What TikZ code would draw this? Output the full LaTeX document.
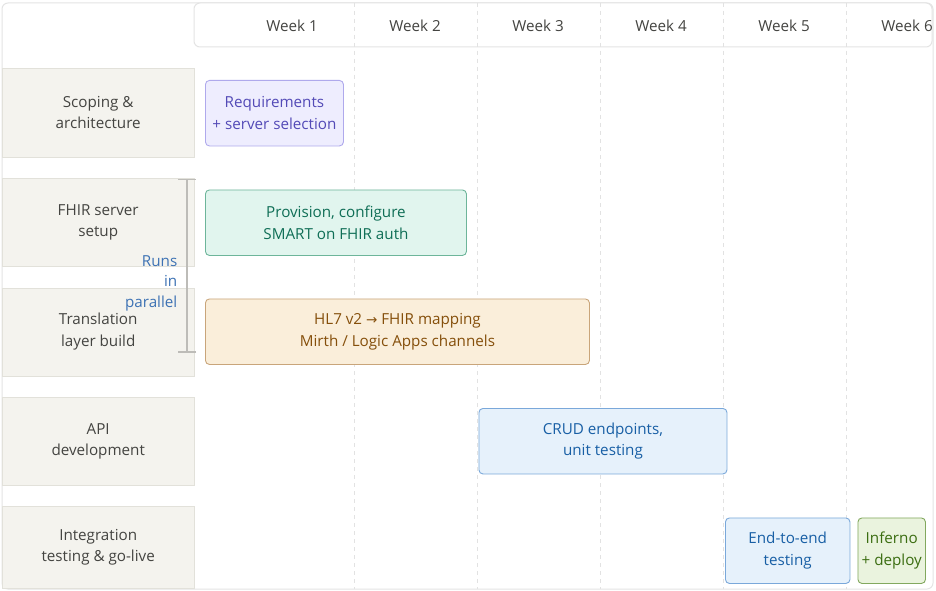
\documentclass[tikz,border=0pt]{standalone}
\usepackage{fontspec}
\setmainfont{Open Sans}
\newfontfamily\arrowfont{DejaVu Sans}
\usetikzlibrary{positioning, arrows.meta}

\definecolor{framegray}{HTML}{E4E4E4}
\definecolor{gridgray}{HTML}{E2E2E2}
\definecolor{phasefill}{HTML}{F4F3EE}
\definecolor{phaseline}{HTML}{E2E1DA}
\definecolor{labeltext}{HTML}{444441}
\definecolor{bracketgray}{HTML}{BDBCB8}
\definecolor{notetext}{HTML}{3D72B4}
\definecolor{reqfill}{HTML}{EEEDFE}
\definecolor{reqline}{HTML}{AFA9EC}
\definecolor{reqtext}{HTML}{534AB7}
\definecolor{provfill}{HTML}{E1F5EE}
\definecolor{provline}{HTML}{6DB59A}
\definecolor{provtext}{HTML}{0F6E56}
\definecolor{mapfill}{HTML}{FAEEDA}
\definecolor{mapline}{HTML}{C9A57A}
\definecolor{maptext}{HTML}{854F0B}
\definecolor{apifill}{HTML}{E6F1FB}
\definecolor{apiline}{HTML}{7AA8DA}
\definecolor{apitext}{HTML}{185FA5}
\definecolor{golivefill}{HTML}{EAF3DE}
\definecolor{goliveline}{HTML}{82A85E}
\definecolor{golivetext}{HTML}{3B6D11}

\begin{document}
\begin{tikzpicture}[x=1pt,y=-1pt,node distance=123pt,font=\fontsize{15.2}{21.5}\selectfont]
\tikzstyle{frame}=[draw=framegray,line width=1pt,rounded corners=6pt]
\tikzstyle{guide}=[draw=gridgray,line width=0.8pt,dash pattern=on 4pt off 4pt]
\tikzstyle{week}=[text=labeltext,inner sep=0pt]
\tikzstyle{phase}=[fill=phasefill,draw=phaseline,text=labeltext,align=center,anchor=north west,inner sep=0pt,minimum width=192pt,minimum height=88pt]
\tikzstyle{bar}=[rounded corners=4pt,line width=0.9pt,align=center,anchor=north west,inner sep=0pt,minimum height=65.5pt]
\useasboundingbox (0,0) rectangle (936,591);

% frame and header
\draw[frame,fill=white] (2,3) rectangle (933,589);
\draw[frame,fill=white] (194,3) rectangle (932,47);
\draw[guide] (354,3) -- (354,589);
\draw[guide] (477,3) -- (477,589);
\draw[guide] (600.5,3) -- (600.5,589);
\draw[guide] (723.5,3) -- (723.5,589);
\draw[guide] (846.5,3) -- (846.5,589);

\node[week] (W1) at (292,25.5) {Week 1};
\node[week] (W2) [right of=W1] {Week 2};
\node[week] (W3) [right of=W2] {Week 3};
\node[week] (W4) [right of=W3] {Week 4};
\node[week] (W5) [right of=W4] {Week 5};
\node[week] (W6) [right of=W5] {Week 6};

% phases
\node[phase] (P1) at (2,68.5) {Scoping \&\\architecture};
\node[phase] (P2) at (2,178) {FHIR server\\setup};
\node[phase] (P3) at (2,287.5) {Translation\\layer build};
\node[phase] (P4) at (2,397) {API\\development};
\node[phase,minimum height=82pt] (P5) at (2,506) {Integration\\testing \& go-live};

% bars
\node[bar,fill=reqfill,draw=reqline,text=reqtext,minimum width=138pt] (REQ) at (205,80) {Requirements\\+ server selection};
\node[bar,fill=provfill,draw=provline,text=provtext,minimum width=261pt] (PROV) at (205,189.5) {Provision, configure\\SMART on FHIR auth};
\node[bar,fill=mapfill,draw=mapline,text=maptext,minimum width=384pt] (MAP) at (205,298.5) {HL7 v2 {\arrowfont\fontsize{13.5}{21.5}\selectfont →} FHIR mapping\\Mirth / Logic Apps channels};
\node[bar,fill=apifill,draw=apiline,text=apitext,minimum width=248pt] (CRUD) at (478.5,408) {CRUD endpoints,\\unit testing};
\node[bar,fill=apifill,draw=apiline,text=apitext,minimum width=124.5pt] (E2E) at (725,517.5) {End-to-end\\testing};
\node[bar,fill=golivefill,draw=goliveline,text=golivetext,minimum width=67.5pt] (INF) at (857.5,517.5) {Inferno\\+ deploy};

% parallel bracket
\coordinate (BT) at (187,178.5);
\coordinate (BB) at (187,352.5);
\draw[draw=bracketgray,line width=1.4pt,{Bar[width=18pt]}-{Bar[width=18pt]}] (BT) -- (BB);
\node[text=notetext,align=right,anchor=east,inner sep=0pt,font=\fontsize{15.2}{20.5}\selectfont] (PAR) at (177.5,283) {Runs\\in\\parallel};
\end{tikzpicture}
\end{document}
